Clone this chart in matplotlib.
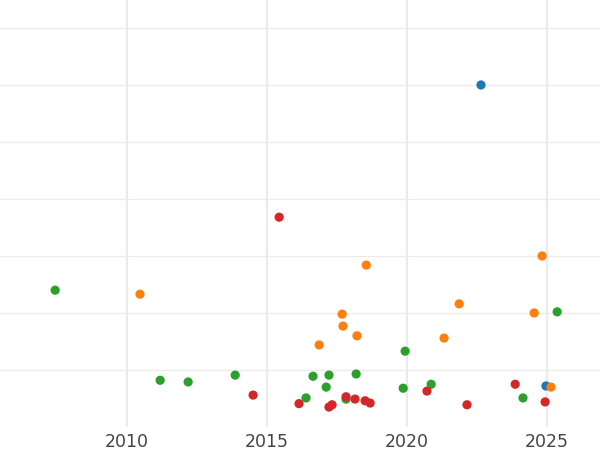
import matplotlib
matplotlib.use("Agg")
import matplotlib.pyplot as plt

# valeurs (unités y arbitraires : une ligne de grille = 1)
bleu_x = [2022.64, 2024.96]
bleu_y = [6.00, 0.72]

orange_x = [2010.46, 2018.54, 2016.86, 2017.68, 2017.71, 2018.21,
            2021.32, 2021.86, 2024.82, 2024.54, 2025.14]
orange_y = [2.33, 2.84, 1.44, 1.98, 1.77, 1.60,
            1.56, 2.16, 3.00, 2.00, 0.70]

vert_x = [2007.43, 2011.18, 2012.18, 2013.86, 2016.39, 2016.64, 2017.11,
          2017.21, 2018.18, 2017.82, 2019.93, 2019.86, 2020.86, 2024.14, 2025.36]
vert_y = [2.40, 0.82, 0.79, 0.91, 0.51, 0.89, 0.70,
          0.91, 0.93, 0.49, 1.33, 0.68, 0.75, 0.51, 2.02]

rouge_x = [2015.43, 2014.50, 2016.14, 2017.21, 2017.32, 2017.82, 2018.14,
           2018.50, 2018.68, 2020.71, 2022.14, 2023.86, 2024.93]
rouge_y = [3.68, 0.56, 0.41, 0.35, 0.39, 0.53, 0.49,
           0.46, 0.42, 0.63, 0.39, 0.75, 0.44]

annees = [2010, 2015, 2020, 2025]

fig = plt.figure(figsize=(6, 4.5), dpi=100)
ax = fig.add_axes([0, 0.0511, 1, 0.9489])

for xs, ys, c in [(bleu_x, bleu_y, "tab:blue"),
                  (orange_x, orange_y, "tab:orange"),
                  (vert_x, vert_y, "tab:green"),
                  (rouge_x, rouge_y, "tab:red")]:
    ax.scatter(xs, ys, s=44, color=c, edgecolors="none", zorder=3)

ax.set_xlim(2005.46, 2026.89)
ax.set_ylim(0, 7.49)
ax.set_xticks(annees)
ax.set_xticklabels([str(a) for a in annees])
ax.set_yticks(range(1, 8))
ax.set_yticklabels([])

ax.grid(axis="x", color="#ebebeb", linewidth=1.6)
ax.grid(axis="y", color="#ebebeb", linewidth=1.0)
ax.set_axisbelow(True)
for sp in ax.spines.values():
    sp.set_visible(False)
ax.tick_params(length=0, labelsize=12.5, labelcolor="#444444", pad=4)

fig.savefig("out.png", dpi=100)
